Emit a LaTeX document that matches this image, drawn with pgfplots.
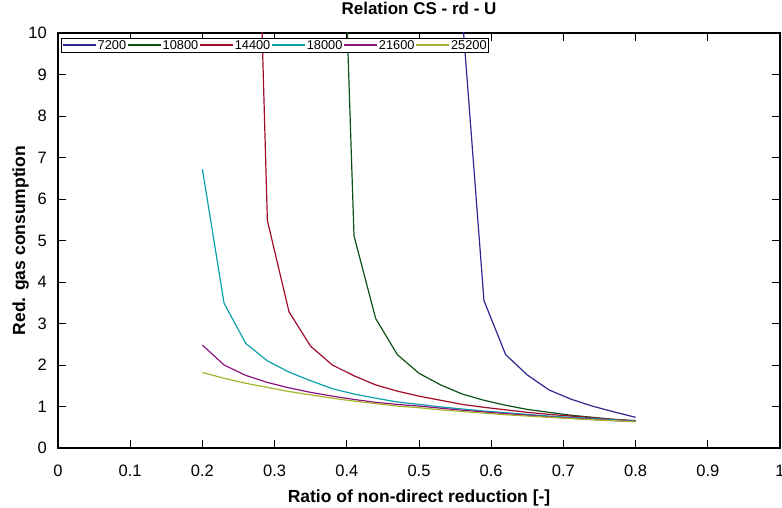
\documentclass[border=0pt]{standalone}
\usepackage{fontspec}
\setmainfont{Liberation Sans}
\usepackage{pgfplots}
\pgfplotsset{compat=1.18}
\definecolor{lgA}{RGB}{45,40,145}
\definecolor{lgB}{RGB}{12,82,22}
\definecolor{lgC}{RGB}{160,12,42}
\definecolor{lgD}{RGB}{12,160,170}
\definecolor{lgE}{RGB}{140,20,130}
\definecolor{lgF}{RGB}{168,178,42}
\pgfplotsset{
  legend image code/.code={\draw[#1] (0pt,0pt) -- (33pt,0pt);},
}
\begin{document}
\begin{tikzpicture}
\useasboundingbox (-58pt,-59pt) rectangle (724pt,448pt);
\begin{axis}[
  at={(0pt,0pt)}, anchor=south west,
  scale only axis, width=722pt, height=415pt,
  xmin=0, xmax=1, ymin=0, ymax=10,
  xtick={0,0.1,0.2,0.3,0.4,0.5,0.6,0.7,0.8,0.9,1},
  xticklabels={0,0.1,0.2,0.3,0.4,0.5,0.6,0.7,0.8,0.9,1},
  ytick={0,1,2,3,4,5,6,7,8,9,10},
  yticklabels={0,1,2,3,4,5,6,7,8,9,10},
  tick align=inside, xtick pos=both, ytick pos=both,
  major tick length=8pt,
  tick style={black, line width=1pt},
  axis line style={black, line width=1.1pt},
  ticklabel style={font=\fontsize{16.5}{19}\selectfont, inner sep=0pt},
  xticklabel style={yshift=-17pt},
  yticklabel style={xshift=-11pt},
  /pgf/number format/assume math mode=true,
  title={Relation CS - rd - U},
  title style={font=\bfseries\fontsize{17}{20}\selectfont, at={(axis description cs:0.5,1.029)}, anchor=base},
  xlabel={Ratio of non-direct reduction [-]},
  xlabel style={font=\bfseries\fontsize{17.5}{20}\selectfont, at={(axis description cs:0.5,-0.1325)}, anchor=base},
  ylabel={Red. gas consumption},
  ylabel style={font=\bfseries\fontsize{17.5}{20}\selectfont, at={(axis description cs:-0.0457,0.5)}, anchor=base},
  legend columns=6,
  legend style={at={(axis description cs:0,1)}, anchor=north west, xshift=3pt, yshift=-5pt,
    font=\fontsize{12.8}{14}\selectfont,
    inner xsep=1pt, inner ysep=1.5pt, nodes={inner sep=1pt, text depth=0pt}},
  legend image post style={line width=1.5pt},
]
\addplot[draw=lgA, line width=1.2pt] coordinates {(0.53,30) (0.56,10.4) (0.59,3.55) (0.62,2.25) (0.65,1.76) (0.68,1.40) (0.71,1.18) (0.74,1.01) (0.77,0.87) (0.80,0.74)};
\addlegendentry{7200}
\addplot[draw=lgB, line width=1.2pt] coordinates {(0.38,21) (0.41,5.11) (0.44,3.12) (0.47,2.25) (0.50,1.80) (0.53,1.52) (0.56,1.30) (0.59,1.15) (0.62,1.03) (0.65,0.93) (0.68,0.86) (0.71,0.79) (0.74,0.74) (0.77,0.69) (0.80,0.65)};
\addlegendentry{10800}
\addplot[draw=lgC, line width=1.2pt] coordinates {(0.26,24) (0.29,5.48) (0.32,3.28) (0.35,2.45) (0.38,2.00) (0.41,1.74) (0.44,1.52) (0.47,1.37) (0.50,1.25) (0.53,1.15) (0.56,1.05) (0.59,0.98) (0.62,0.92) (0.65,0.86) (0.68,0.81) (0.71,0.77) (0.74,0.73) (0.77,0.69) (0.80,0.66)};
\addlegendentry{14400}
\addplot[draw=lgD, line width=1.2pt] coordinates {(0.20,6.72) (0.23,3.49) (0.26,2.52) (0.29,2.10) (0.32,1.83) (0.35,1.62) (0.38,1.43) (0.41,1.30) (0.44,1.20) (0.47,1.11) (0.50,1.05) (0.53,0.99) (0.56,0.94) (0.59,0.89) (0.62,0.85) (0.65,0.81) (0.68,0.77) (0.71,0.74) (0.74,0.71) (0.77,0.68) (0.80,0.65)};
\addlegendentry{18000}
\addplot[draw=lgE, line width=1.2pt] coordinates {(0.20,2.48) (0.23,2.00) (0.26,1.75) (0.29,1.58) (0.32,1.45) (0.35,1.34) (0.38,1.25) (0.41,1.17) (0.44,1.10) (0.47,1.05) (0.50,1.01) (0.53,0.96) (0.56,0.91) (0.59,0.87) (0.62,0.83) (0.65,0.79) (0.68,0.75) (0.71,0.72) (0.74,0.69) (0.77,0.66) (0.80,0.64)};
\addlegendentry{21600}
\addplot[draw=lgF, line width=1.2pt] coordinates {(0.20,1.82) (0.23,1.68) (0.26,1.56) (0.29,1.46) (0.32,1.36) (0.35,1.28) (0.38,1.20) (0.41,1.13) (0.44,1.07) (0.47,1.01) (0.50,0.97) (0.53,0.92) (0.56,0.88) (0.59,0.84) (0.62,0.80) (0.65,0.77) (0.68,0.74) (0.71,0.71) (0.74,0.68) (0.77,0.66) (0.80,0.63)};
\addlegendentry{25200}
\end{axis}
\end{tikzpicture}
\end{document}
